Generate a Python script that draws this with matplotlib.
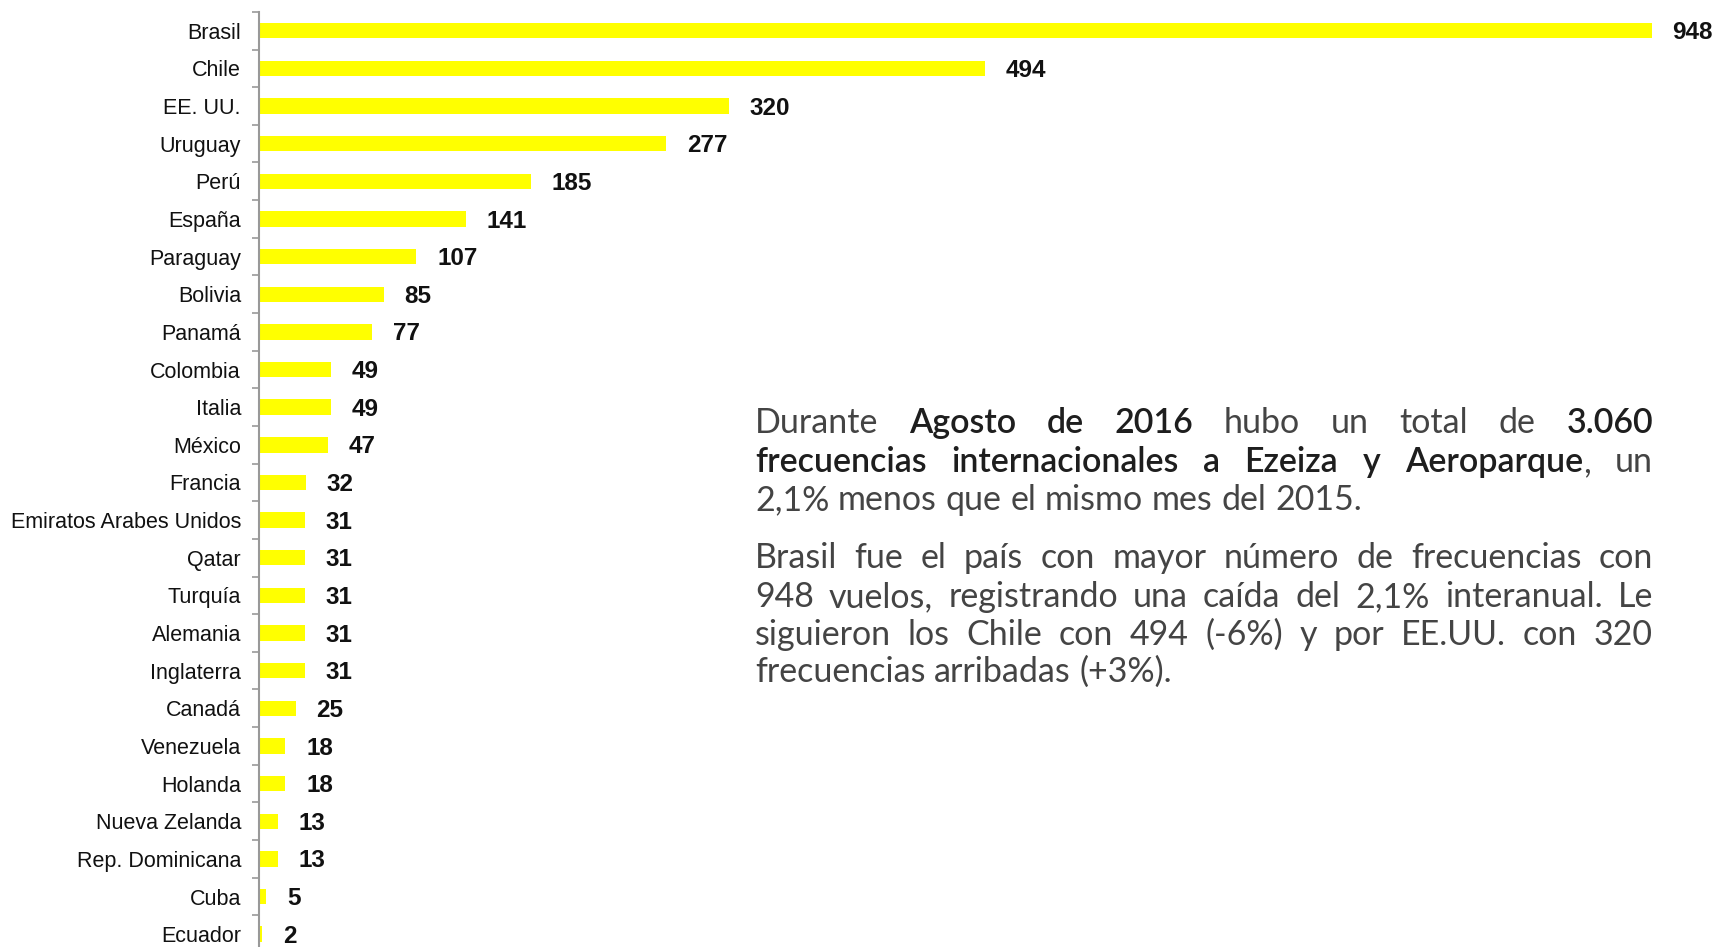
import matplotlib
matplotlib.use('Agg')
import matplotlib.pyplot as plt
from matplotlib.ticker import FixedLocator

# datos
paises = ['Brasil', 'Chile', 'EE. UU.', 'Uruguay', 'Perú', 'España', 'Paraguay', 'Bolivia',
          'Panamá', 'Colombia', 'Italia', 'México', 'Francia', 'Emiratos Arabes Unidos', 'Qatar',
          'Turquía', 'Alemania', 'Inglaterra', 'Canadá', 'Venezuela', 'Holanda', 'Nueva Zelanda',
          'Rep. Dominicana', 'Cuba', 'Ecuador']
frecuencias = [948, 494, 320, 277, 185, 141, 107, 85, 77, 49, 49, 47, 32, 31, 31, 31, 31, 31,
               25, 18, 18, 13, 13, 5, 2]

parrafo1 = ['Durante **Agosto de 2016** hubo un total de **3.060**',
            '**frecuencias internacionales a Ezeiza y Aeroparque**, un',
            '2,1% menos que el mismo mes del 2015.']
parrafo2 = ['Brasil fue el país con mayor número de frecuencias con',
            '948 vuelos, registrando una caída del 2,1% interanual. Le',
            'siguieron los Chile con 494 (-6%) y por EE.UU. con 320',
            'frecuencias arribadas (+3%).']

W, H = 1721, 947
fig = plt.figure(figsize=(W / 100, H / 100), dpi=100)
ax = fig.add_axes([259 / W, 1 - 953 / H, 1 - 259 / W, (953 - 11.9) / H])

y = list(range(len(paises)))
ax.barh(y, frecuencias, height=0.41, color='#FFFF00')
for yi, v in zip(y, frecuencias):
    ax.annotate(str(v), (v, yi), xytext=(15, -1.5), textcoords='offset points',
                ha='left', va='center', fontsize=17.5, fontweight='bold',
                family='Liberation Sans', color='#111111')

ax.set_xlim(0, (W - 259) / 1.469)
ax.set_ylim(len(paises) - 0.5, -0.5)
ax.set_yticks(y)
ax.set_yticklabels(paises, fontsize=15.5, family='Liberation Sans', color='#111111')
ax.yaxis.set_minor_locator(FixedLocator([i - 0.5 for i in range(len(paises) + 1)]))
ax.tick_params(axis='y', which='major', length=0, pad=13)
ax.tick_params(axis='y', which='minor', length=5, width=1.2, color='#999999', direction='out')
ax.set_xticks([])
for s in ['top', 'right', 'bottom']:
    ax.spines[s].set_visible(False)
ax.spines['left'].set_color('#999999')
ax.spines['left'].set_linewidth(1.5)

# texto justificado
fuente = dict(family=['Lato', 'DejaVu Sans'], fontsize=24.5)
renderer = fig.canvas.get_renderer()


def medir(s, negrita):
    t = fig.text(0, 0, s, fontweight='semibold' if negrita else 'normal', **fuente)
    w = t.get_window_extent(renderer).width
    t.remove()
    return w


def palabras(linea):
    partes = linea.split('**')
    res, actual = [], []
    for i, p in enumerate(partes):
        negrita = i % 2 == 1
        trozos = p.split(' ')
        for j, tr in enumerate(trozos):
            if j > 0 and actual:
                res.append(actual)
                actual = []
            if tr:
                actual.append((tr, negrita))
    if actual:
        res.append(actual)
    return res


x0, x1 = 755, 1653
espacio = medir('a a', False) - medir('aa', False)


def dibujar(parrafo, baselines):
    for k, (linea, yb) in enumerate(zip(parrafo, baselines)):
        ws = palabras(linea)
        anchos = [sum(medir(t, b) for t, b in w) for w in ws]
        ultima = k == len(parrafo) - 1
        gap = espacio if ultima else (x1 - x0 - sum(anchos)) / (len(ws) - 1)
        x = x0
        for w, a in zip(ws, anchos):
            xx = x
            for t, b in w:
                fig.text(xx / W, 1 - yb / H, t, ha='left', va='baseline',
                         fontweight='semibold' if b else 'normal',
                         color='#1e1e1e' if b else '#444444', **fuente)
                xx += medir(t, b)
            x += a + gap


dibujar(parrafo1, [433, 472, 510])
dibujar(parrafo2, [568, 607, 645, 682])

fig.savefig('out.png', dpi=100)
